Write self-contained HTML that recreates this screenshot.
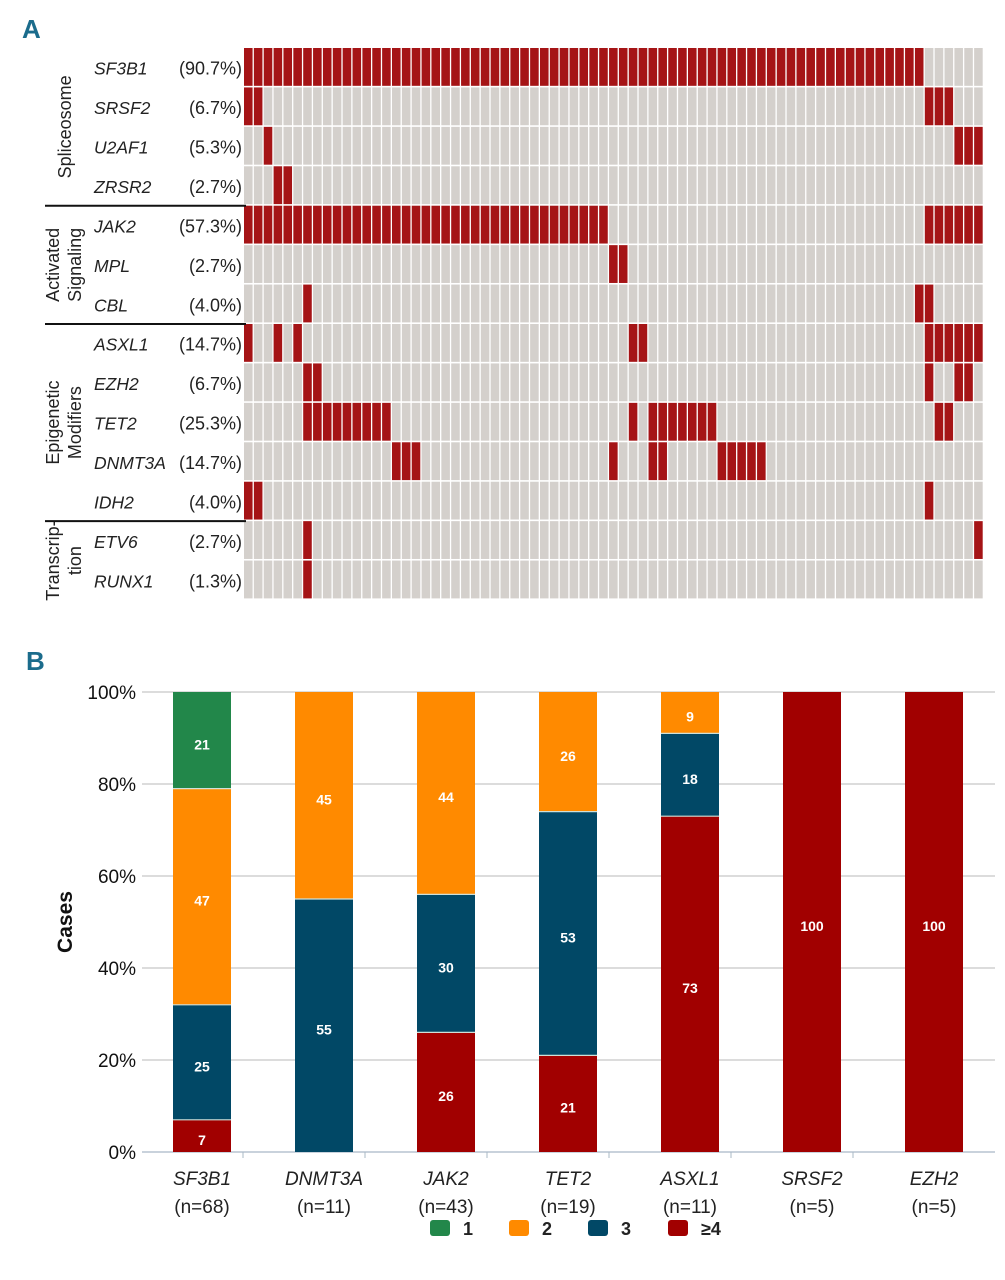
<!DOCTYPE html>
<html><head><meta charset="utf-8"><style>
body{margin:0;background:#fff;}
svg{display:block;font-family:"Liberation Sans",Arial,sans-serif;}
</style></head><body>
<svg id="fig" width="1005" height="1280" viewBox="0 0 1005 1280">
<text x="22" y="38" font-size="26" font-weight="bold" fill="#1b6c8c" font-family="Liberation Sans Narrow,Liberation Sans,sans-serif">A</text>
<text x="26" y="670" font-size="26" font-weight="bold" fill="#1b6c8c" font-family="Liberation Sans Narrow,Liberation Sans,sans-serif">B</text>
<g id="onco"></g>
<g id="bars"></g>
</svg>
<script>
const NS="http://www.w3.org/2000/svg";
// ---- Panel A data ----
const genes=["SF3B1","SRSF2","U2AF1","ZRSR2","JAK2","MPL","CBL","ASXL1","EZH2","TET2","DNMT3A","IDH2","ETV6","RUNX1"];
const genePct=["(90.7%)","(6.7%)","(5.3%)","(2.7%)","(57.3%)","(2.7%)","(4.0%)","(14.7%)","(6.7%)","(25.3%)","(14.7%)","(4.0%)","(2.7%)","(1.3%)"];
const nSamples=75;
const mutSF3B1=Array.from({length:69},(_,i)=>i);
const mutSRSF2=[0,1,69,70,71];
const mutU2AF1=[2,72,73,74];
const mutZRSR2=[3,4];
const mutJAK2=Array.from({length:37},(_,i)=>i).concat([69,70,71,72,73,74]);
const mutMPL=[37,38];
const mutCBL=[6,68,69];
const mutASXL1=[0,3,5,39,40,69,70,71,72,73,74];
const mutEZH2=[6,7,69,72,73];
const mutTET2=[6,7,8,9,10,11,12,13,14,39,41,42,43,44,45,46,47,70,71];
const mutDNMT3A=[15,16,17,37,41,42,48,49,50,51,52];
const mutIDH2=[0,1,69];
const mutETV6=[6,74];
const mutRUNX1=[6];
const mutations=[mutSF3B1,mutSRSF2,mutU2AF1,mutZRSR2,mutJAK2,mutMPL,mutCBL,mutASXL1,mutEZH2,mutTET2,mutDNMT3A,mutIDH2,mutETV6,mutRUNX1];
const groupNames=[["Spliceosome"],["Activated","Signaling"],["Epigenetic","Modifiers"],["Transcrip-","tion"]];
const groupStart=[0,4,7,12];
const groupEnd=[4,7,12,14];

function mk(tag,attrs,parent,txt){const e=document.createElementNS(NS,tag);for(const k in attrs)e.setAttribute(k,attrs[k]);if(txt!==undefined)e.textContent=txt;parent.appendChild(e);return e;}

const onco=document.getElementById('onco');
const gx0=244,gx1=984,gy0=48,gy1=600;
const cw=(gx1-gx0)/nSamples, rh=(gy1-gy0)/genes.length;
const colX=c=>gx0+c*cw, rowY=r=>gy0+r*rh;
genes.forEach((g,r)=>{
  const set=new Set(mutations[r]);
  for(let c=0;c<nSamples;c++){
    const rc=mk('rect',{x:colX(c),y:rowY(r),width:cw-1.3,height:rh-1.6,fill:set.has(c)?'#a51416':'#d4d0cc'},onco);
    
    
  }
  const t=mk('text',{x:94,y:rowY(r)+rh/2+7,'font-size':17.5,'font-style':'italic',fill:'#222'},onco,g);
  
  
  const p=mk('text',{x:242,y:rowY(r)+rh/2+7,'font-size':18,'text-anchor':'end',fill:'#222'},onco,genePct[r]);
  
  
});
groupNames.forEach((lines,i)=>{
  const cy=(rowY(groupStart[i])+rowY(groupEnd[i]))/2;
  lines.forEach((ln,j)=>{
    const x=lines.length===1?71:59+j*22;
    const t=mk('text',{x:x,y:cy,'font-size':18,'text-anchor':'middle',fill:'#222',transform:`rotate(-90 ${x} ${cy})`},onco,ln);
    
    
  });
  if(i>0){const l=mk('line',{x1:45,x2:246,y1:rowY(groupStart[i]),y2:rowY(groupStart[i]),stroke:'#111','stroke-width':2},onco);
    
    }
});

// ---- Panel B data ----
const categories=["SF3B1","DNMT3A","JAK2","TET2","ASXL1","SRSF2","EZH2"];
const catN=["(n=68)","(n=11)","(n=43)","(n=19)","(n=11)","(n=5)","(n=5)"];
const s1=[21,0,0,0,0,0,0];
const s2=[47,45,44,26,9,0,0];
const s3=[25,55,30,53,18,0,0];
const s4=[7,0,26,21,73,100,100];
const yTicks=[0,20,40,60,80,100];
const seriesLabels=["1","2","3","≥4"];
const colors=["#22874a","#ff8a00","#014866","#a10000"];

const bars=document.getElementById('bars');
const px0=142,px1=995,py0=1152,py1=692;
const band=122, firstC=202;
const xC=i=>firstC+i*band;
const yS=v=>py0-(v/100)*(py0-py1);
yTicks.forEach(v=>{
  const l=mk('line',{x1:px0,x2:px1,y1:yS(v),y2:yS(v),stroke:v===0?'#a9b8c6':'#c8c8c8','stroke-width':1.3},bars);
  
  
  const t=mk('text',{x:136,y:yS(v)+7,'font-size':19,'text-anchor':'end',fill:'#111'},bars,v+'%');
  
  
});
const yt=mk('text',{x:72,y:922,'font-size':21,'font-weight':'bold','text-anchor':'middle',fill:'#111',transform:'rotate(-90 72 922)'},bars,'Cases');


const series=[s4,s3,s2,s1], scol=[colors[3],colors[2],colors[1],colors[0]];
categories.forEach((c,i)=>{
  let acc=0;
  series.forEach((s,k)=>{
    const v=s[i]; if(!v) return;
    const yb=yS(acc), yt2=yS(acc+v);
    const r=mk('rect',{x:xC(i)-29,y:yt2,width:58,height:yb-yt2,fill:scol[k]},bars);
    
    
    if(acc>0){const sl=mk('line',{x1:xC(i)-29,x2:xC(i)+29,y1:yb,y2:yb,stroke:'#cfe0d8','stroke-width':1.2},bars);
      
      }
    const lt=mk('text',{x:xC(i),y:(yb+yt2)/2+9,'font-size':14,'font-weight':'bold','text-anchor':'middle',fill:'#fff'},bars,String(v));
    
    
    acc+=v;
  });
  if(i<categories.length-1){const tk=mk('line',{x1:xC(i)+band/2-20,x2:xC(i)+band/2-20,y1:py0,y2:py0+6,stroke:'#a9b8c6'},bars);
    
    }
  const t1=mk('text',{x:xC(i),y:1185,'font-size':19,'font-style':'italic','text-anchor':'middle',fill:'#222'},bars,c);
  
  
  const t2=mk('text',{x:xC(i),y:1213,'font-size':19,'text-anchor':'middle',fill:'#222'},bars,catN[i]);
  
  
});
const legX=[430,509,588,668];
seriesLabels.forEach((s,k)=>{
  const r=mk('rect',{x:legX[k],y:1220,width:20,height:16,rx:3,fill:colors[k]},bars);
  
  
  const t=mk('text',{x:legX[k]+33,y:1235,'font-size':18,'font-weight':'bold',fill:'#222'},bars,s);
  
  
});
</script>
</body></html>
